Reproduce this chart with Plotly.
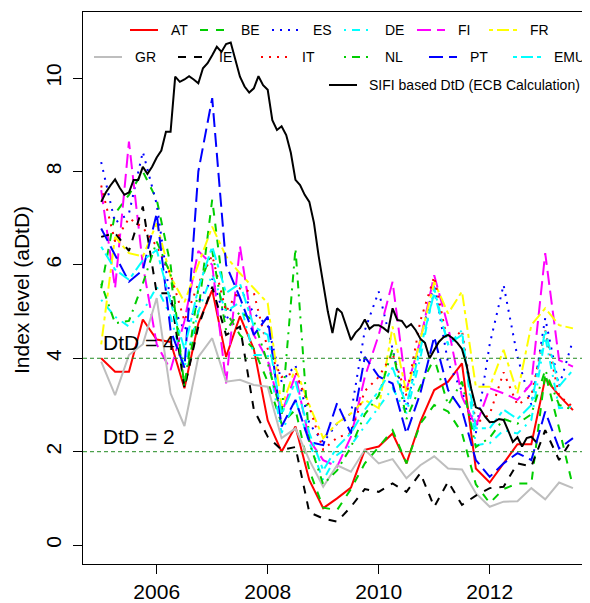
import plotly.graph_objects as go

# ---------------- data ----------------
quarters = [2005 + 0.25 * i for i in range(35)]   # quarterly observation dates
months = [2005 + m / 12 for m in range(95)]       # monthly SIFI series dates

AT = [4.0, 3.71, 3.71, 4.83, 4.4, 4.35, 3.36, 4.75, 5.46, 4.03, 4.9, 4.2, 2.67, 2.0, 2.54, 1.39, 0.79, 1.0, 1.23,
      2.04, 2.11, 2.39, 1.75, 2.64, 3.32, 3.5, 3.89, 1.64, 1.34, 1.75, 2.16, 2.16, 3.57, 3.2, 2.89]
BE = [5.5, 7.1, 7.5, 8.0, 7.4, 6.0, 3.4, 5.0, 7.4, 5.0, 4.5, 4.2, 3.5, 2.6, 2.9, 1.6, 0.8, 0.75, 1.2,
      1.75, 2.1, 2.46, 1.75, 2.6, 3.0, 2.86, 2.4, 1.3, 0.9, 1.2, 1.32, 1.32, 3.68, 2.5, 1.25]
ES = [8.2, 6.9, 7.1, 8.42, 7.3, 5.2, 4.6, 5.2, 5.7, 4.8, 5.5, 4.96, 4.7, 3.5, 3.85, 2.6, 2.2, 2.6, 2.82,
      4.6, 5.43, 4.2, 2.89, 4.4, 5.6, 3.9, 3.3, 2.4, 4.3, 5.57, 4.03, 3.0, 4.86, 3.4, 4.39]
DE = [5.25, 4.89, 4.68, 5.0, 5.53, 4.9, 3.8, 5.0, 5.8, 5.0, 5.2, 4.07, 4.07, 2.4, 3.11, 2.2, 1.39, 1.93, 2.14,
      2.54, 2.96, 3.36, 2.82, 4.0, 5.5, 4.28, 4.6, 2.14, 2.18, 2.46, 2.39, 2.68, 4.46, 2.93, 2.96]
FI = [7.6, 5.5, 8.64, 6.0, 4.3, 3.75, 4.8, 6.3, 6.0, 3.46, 6.4, 4.5, 3.96, 2.82, 3.64, 2.25, 1.82, 1.68, 2.32,
      3.6, 4.5, 5.64, 3.32, 4.39, 5.78, 4.68, 3.18, 2.54, 3.36, 3.25, 3.11, 3.46, 6.25, 3.96, 3.82]
FR = [4.3, 6.6, 6.25, 6.18, 6.89, 5.75, 5.2, 6.0, 6.82, 6.18, 5.82, 5.5, 5.18, 2.96, 3.79, 3.0, 2.29, 2.61, 2.82,
      3.11, 2.93, 4.68, 3.25, 4.39, 5.64, 4.96, 5.43, 3.39, 3.39, 4.18, 3.25, 4.71, 5.07, 4.71, 4.64]
GR = [3.93, 3.21, 4.07, 4.3, 5.29, 3.25, 2.55, 4.03, 4.43, 3.5, 3.54, 3.43, 3.39, 2.29, 2.5, 1.82, 1.25, 1.71, 1.57,
      2.04, 1.75, 1.84, 1.43, 1.71, 1.9, 1.64, 1.62, 1.11, 0.82, 0.93, 0.94, 1.22, 0.98, 1.34, 1.22]
IE = [6.6, 6.68, 6.3, 7.25, 5.39, 5.39, 3.36, 4.68, 5.53, 4.5, 4.68, 2.9, 2.32, 2.04, 2.1, 0.7, 0.57, 0.5, 0.82,
      1.2, 1.14, 1.32, 1.14, 1.54, 0.82, 1.36, 0.86, 1.06, 1.22, 1.25, 1.75, 1.68, 2.46, 1.82, 2.29]
IT = [7.7, 6.5, 7.0, 6.8, 6.4, 5.8, 4.8, 5.6, 6.2, 5.0, 5.5, 5.4, 4.2, 3.6, 3.7, 2.96, 2.04, 2.3, 2.4,
      3.3, 3.6, 4.1, 3.2, 4.8, 5.75, 4.3, 4.6, 2.6, 2.8, 3.7, 3.0, 3.2, 4.6, 3.2, 2.96]
NL = [5.6, 4.75, 4.8, 5.6, 6.5, 5.8, 3.4, 5.5, 6.3, 4.6, 5.0, 4.8, 3.9, 2.8, 6.35, 2.2, 1.3, 1.6, 2.1,
      2.8, 3.2, 4.2, 2.7, 3.4, 4.0, 3.0, 3.5, 2.1, 2.3, 2.7, 2.6, 2.8, 3.75, 3.0, 2.9]
PT = [6.78, 6.2, 5.64, 5.89, 7.1, 4.6, 3.8, 8.0, 9.57, 6.0, 5.3, 4.5, 4.89, 2.54, 3.11, 2.21, 2.14, 3.04, 2.39,
      4.03, 3.61, 3.46, 2.39, 3.25, 4.46, 3.32, 2.89, 1.82, 1.46, 1.75, 1.97, 1.82, 2.86, 2.07, 2.29]
EMU = [6.39, 5.9, 5.68, 6.1, 6.32, 5.2, 4.2, 5.5, 6.39, 5.4, 5.6, 4.68, 4.5, 2.8, 3.5, 2.4, 1.6, 2.1, 2.4,
       2.9, 3.3, 3.8, 3.0, 4.2, 5.4, 4.3, 4.5, 2.5, 2.5, 2.9, 2.7, 3.0, 4.6, 3.4, 3.75]

SIFI = [7.35, 7.55, 7.7, 7.83, 7.65, 7.5, 7.55, 7.82, 7.82, 8.1, 7.95, 8.1,
        8.3, 8.45, 8.85, 8.85, 10.03, 9.92, 9.97, 10.04, 9.97, 9.89, 10.21, 10.32,
        10.49, 10.67, 10.56, 10.73, 10.76, 10.39, 10.03, 9.82, 9.69, 9.78, 10.04, 9.85,
        9.75, 9.1, 8.89, 8.97, 8.78, 8.4, 7.82, 7.71, 7.5, 7.35, 6.9, 6.2,
        5.6, 5.0, 4.54, 5.07, 4.98, 4.7, 4.39, 4.55, 4.65, 4.83, 4.63, 4.71,
        4.71, 4.65, 4.57, 5.07, 4.82, 4.8, 4.66, 4.73, 4.6, 4.42, 4.33, 4.0,
        4.18, 4.35, 4.45, 4.5, 4.43, 4.33, 4.2, 3.85, 3.35, 2.95, 2.91, 2.75,
        2.63, 2.64, 2.7, 2.68, 2.45, 2.21, 2.31, 2.11, 2.29, 2.32, 2.21]

series_names = ["AT", "BE", "ES", "DE", "FI", "FR", "GR", "IE", "IT", "NL", "PT", "EMU"]
series_values = [AT, BE, ES, DE, FI, FR, GR, IE, IT, NL, PT, EMU]
threshold_levels = [4, 2]
threshold_labels = ["DtD = 4", "DtD = 2"]
x_tick_vals = [2006, 2008, 2010, 2012]
y_tick_vals = [0, 2, 4, 6, 8, 10]

# ---------------- styles ----------------
DASHED = "8px,8px"
DOTTED = "2px,6px"
DOTDASH = "2px,6px,8px,6px"
LONGDASH = "14px,6px"
TWODASH = "4px,4px,12px,4px"
styles = {
    "AT": ("#FF0000", "solid"), "BE": ("#00CD00", DASHED), "ES": ("#0000FF", DOTTED),
    "DE": ("#00FFFF", DOTDASH), "FI": ("#FF00FF", LONGDASH), "FR": ("#FFFF00", TWODASH),
    "GR": ("#BEBEBE", "solid"), "IE": ("#000000", DASHED), "IT": ("#FF0000", DOTTED),
    "NL": ("#00CD00", DOTDASH), "PT": ("#0000FF", LONGDASH), "EMU": ("#00FFFF", TWODASH),
}
FONT = "Liberation Sans, Arial, Helvetica, sans-serif"
OFF = 8                      # browser body margin shifts the figure by 8px
W, H = 590 - OFF, 603 - OFF  # figure size so it fills the window
L, R, T, B = 83, 590, 12, 564  # plot-area edges in window pixels


def px(x):
    return (x - L) / (R - L)


def py(y):
    return (B - y) / (B - T)


fig = go.Figure()
for name, vals in zip(series_names, series_values):
    col, dash = styles[name]
    fig.add_trace(go.Scatter(x=quarters, y=vals, mode="lines", name=name,
                             line=dict(color=col, width=2, dash=dash), showlegend=False))
fig.add_trace(go.Scatter(x=months, y=SIFI, mode="lines", name="SIFI based DtD (ECB Calculation)",
                         line=dict(color="#000000", width=2), showlegend=False))

shapes = []
annotations = []
for lvl, lab in zip(threshold_levels, threshold_labels):
    shapes.append(dict(type="line", xref="paper", x0=0, x1=1, yref="y", y0=lvl, y1=lvl,
                       line=dict(color="#228B22", width=1, dash="4px,3px"), layer="above"))
    annotations.append(dict(x=2005.0, y=lvl + 0.33, xref="x", yref="y", text=lab, showarrow=False,
                            xanchor="left", yanchor="middle", font=dict(family=FONT, size=21, color="black")))

# manual legend (two rows of six + SIFI entry)
row1 = [("AT", 130), ("BE", 200), ("ES", 272), ("DE", 344), ("FI", 417), ("FR", 489)]
row2 = [("GR", 94), ("IE", 178), ("IT", 261), ("NL", 344), ("PT", 429), ("EMU", 513)]
for row, ypx in ((row1, 30), (row2, 57)):
    for name, x0 in row:
        col, dash = styles[name]
        shapes.append(dict(type="line", xref="paper", yref="paper", x0=px(x0), x1=px(x0 + 28),
                           y0=py(ypx), y1=py(ypx), line=dict(color=col, width=2, dash=dash)))
        annotations.append(dict(x=px(x0 + 39), y=py(ypx), xref="paper", yref="paper", text=name,
                                showarrow=False, xanchor="left", yanchor="middle",
                                font=dict(family=FONT, size=14, color="black")))
shapes.append(dict(type="line", xref="paper", yref="paper", x0=px(329), x1=px(357),
                   y0=py(85), y1=py(85), line=dict(color="black", width=2)))
annotations.append(dict(x=px(367), y=py(85), xref="paper", yref="paper",
                        text="SIFI based DtD (ECB Calculation)", showarrow=False,
                        xanchor="left", yanchor="middle", font=dict(family=FONT, size=14, color="black")))

# y-axis title
annotations.append(dict(x=px(21), y=py(290), xref="paper", yref="paper", text="Index level (aDtD)",
                        textangle=-90, showarrow=False, xanchor="center", yanchor="middle",
                        font=dict(family=FONT, size=21, color="black")))

fig.update_layout(
    width=W, height=H,
    margin=dict(l=L - OFF, r=590 - R, t=T - OFF, b=603 - B, pad=0),
    paper_bgcolor="white", plot_bgcolor="white",
    shapes=shapes, annotations=annotations,
    font=dict(family=FONT, size=21, color="black"),
    xaxis=dict(range=[2004.672, 2013.807], tickvals=x_tick_vals, ticktext=[str(v) for v in x_tick_vals],
               showgrid=False, zeroline=False, showline=True, mirror=True, linecolor="black", linewidth=1,
               ticks="outside", ticklen=9, tickwidth=1, tickcolor="black",
               tickfont=dict(family=FONT, size=21, color="black")),
    yaxis=dict(range=[-0.405, 11.415], tickvals=y_tick_vals, showgrid=False, zeroline=False,
               showline=True, mirror=False, linecolor="black", linewidth=1,
               ticks="outside", ticklen=9, tickwidth=1, tickcolor="black", tickangle=-90,
               ticklabelstandoff=4,
               tickfont=dict(family=FONT, size=21, color="black")),
)

fig.write_html("out.html")
